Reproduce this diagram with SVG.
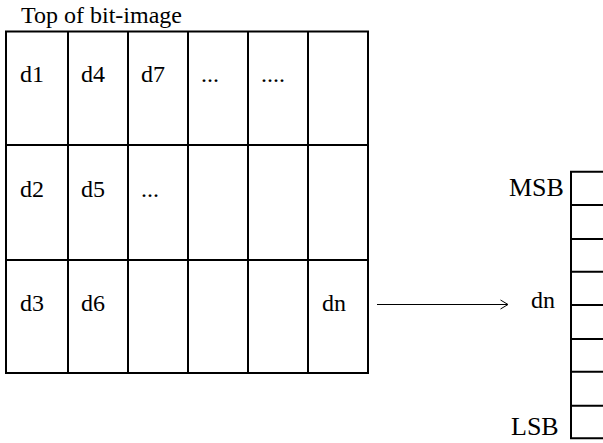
<svg xmlns="http://www.w3.org/2000/svg" width="603" height="443" viewBox="0 0 603 443">
<style>
.t{font-family:"Liberation Serif","Times New Roman",serif;font-size:24px;fill:#000}
.b{font-size:26px}
.g{fill:none;stroke:#000;stroke-width:2}
.a{fill:none;stroke:#000;stroke-width:1}
</style>
<rect width="603" height="443" fill="#fff"/>
<text class="t" x="21" y="23">Top of bit-image</text>
<g id="grid">
<rect class="g" x="6" y="31.5" width="362" height="341.5"/>
<path class="g" d="M68,31.5V373M128,31.5V373M188,31.5V373M248,31.5V373M308,31.5V373M6,145H368M6,260H368"/>
</g>
<g id="cells">
<text class="t" x="20" y="82">d1</text>
<text class="t" x="81" y="82">d4</text>
<text class="t" x="141" y="82">d7</text>
<text class="t" x="201" y="82">...</text>
<text class="t" x="261" y="82">....</text>
<text class="t" x="20" y="197">d2</text>
<text class="t" x="81" y="197">d5</text>
<text class="t" x="141" y="197">...</text>
<text class="t" x="20" y="311">d3</text>
<text class="t" x="81" y="311">d6</text>
<text class="t" x="322" y="311">dn</text>
</g>
<g id="connectors">
<path class="a" d="M377,304.5H507.5M500.5,300L508,304.5L500.5,309"/>
</g>
<g id="register">
<path class="g" d="M603,171.7H571V438.3H603M571,205H603M571,239H603M571,271.7H603M571,305H603M571,339H603M571,371.7H603M571,405.7H603"/>
<text class="t b" x="509" y="196">MSB</text>
<text class="t" x="531" y="308">dn</text>
<text class="t b" x="511" y="435">LSB</text>
</g>
</svg>
